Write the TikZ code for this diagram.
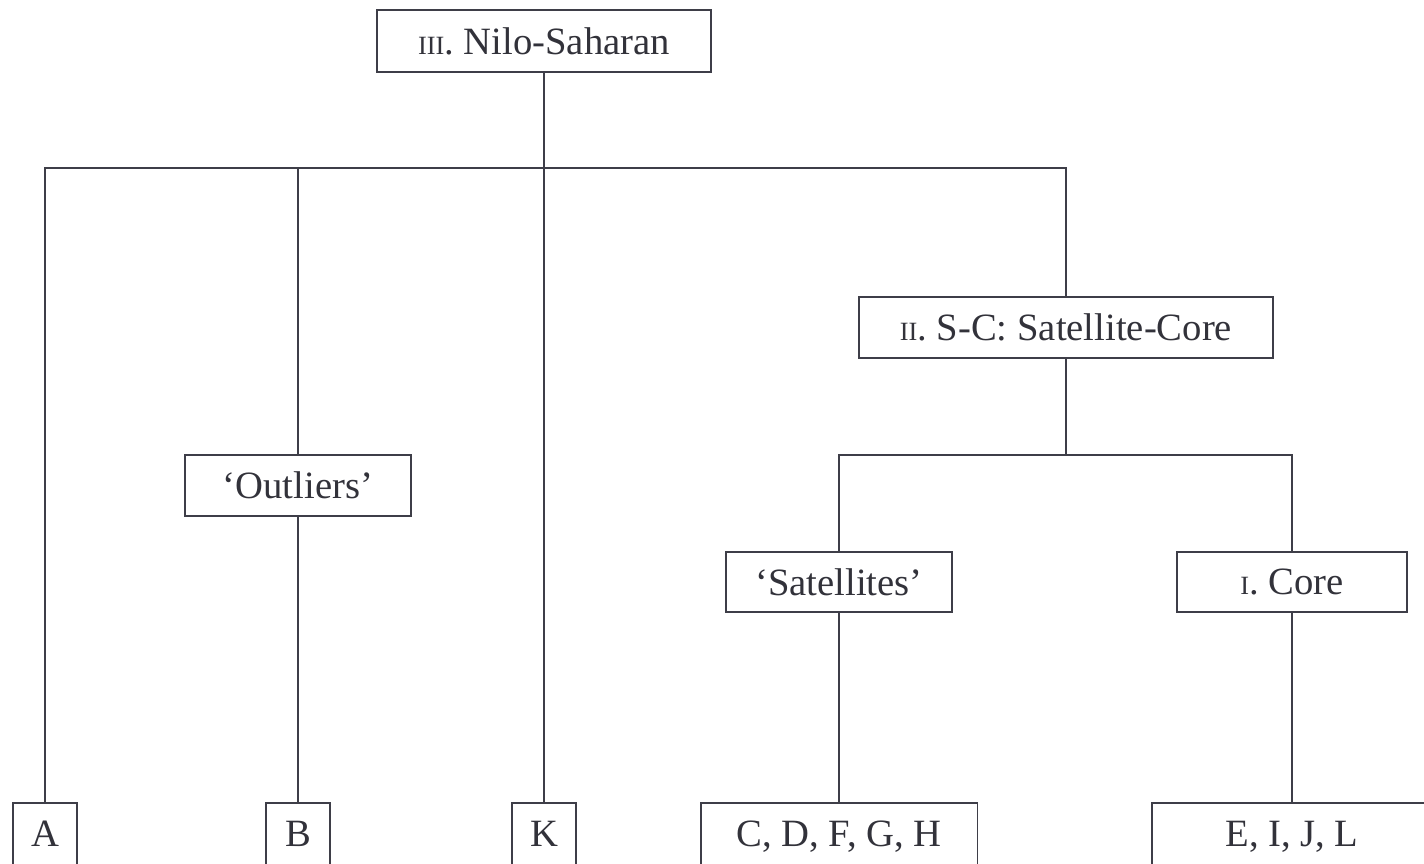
\documentclass[tikz,border=0pt]{standalone}
\usepackage{fontspec}
\setmainfont{Liberation Serif}
\usepackage{tikz}
\usetikzlibrary{positioning}

\definecolor{inkline}{RGB}{62,62,72}
\definecolor{inktext}{RGB}{50,50,58}
% roman numerals set as small capitals
\newcommand{\rnum}[1]{{\fontsize{15}{18}\selectfont #1}}

\tikzset{
  family/.style={draw=inkline, line width=1.1pt, text=inktext, inner sep=0pt,
    minimum height=1.22cm, font=\fontsize{22}{26}\selectfont},
  leaf/.style={family, minimum height=1.24cm, text depth=0pt},
  branch/.style={draw=inkline, line width=1.1pt}
}

\begin{document}
\begin{tikzpicture}[x=0.02cm, y=-0.02cm]
  \useasboundingbox (0,0) rectangle (1424,864);

  \node[family, minimum width=6.68cm, minimum height=1.24cm] (nilo) at (544,41) {\rnum{III}. Nilo-Saharan};
  \node[family, minimum width=8.28cm] (sc) at (1066,327.5) {\rnum{II}. S-C: Satellite-Core};
  \node[family, minimum width=4.52cm] (out) at (298,485.5) {`Outliers'};
  \node[family, minimum width=4.52cm, minimum height=1.2cm] (sat) at (839,582) {`Satellites'};
  \node[family, minimum width=4.6cm, minimum height=1.2cm] (core) at (1292,582) {\rnum{I}. Core};

  \node[leaf, minimum width=1.28cm] (a) at (45,834) {A};
  \node[leaf, minimum width=1.28cm] (b) at (298,834) {B};
  \node[leaf, minimum width=1.28cm] (k) at (544,834) {K};
  \node[leaf, minimum width=5.54cm] (cdfgh) at (839,834) {C, D, F, G, H};
  \node[leaf, minimum width=5.6cm] (eijl) at (1292,834) {E, I, J, L};

  \coordinate (bar) at (0,168);
  \coordinate (split) at (0,455);

  \draw[branch] (a.north) -- (a.north |- bar) -- (sc.north |- bar) -- (sc.north);
  \draw[branch] (nilo.south) -- (k.north);
  \draw[branch] (out.north) -- (out.north |- bar);
  \draw[branch] (out.south) -- (b.north);
  \draw[branch] (sc.south) -- (sc.south |- split);
  \draw[branch] (sat.north) -- (sat.north |- split) -- (core.north |- split) -- (core.north);
  \draw[branch] (sat.south) -- (cdfgh.north);
  \draw[branch] (core.south) -- (eijl.north);
\end{tikzpicture}
\end{document}
